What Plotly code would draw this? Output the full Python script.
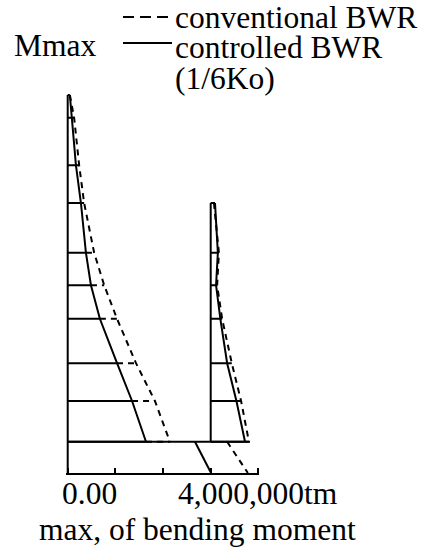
import plotly.graph_objects as go

# ---------------- data ----------------
floor_elev = [63.0, 59.2, 51.3, 45.0, 36.7, 31.3, 25.7, 18.3, 12.0, 5.2]
left_controlled = [0.06e6, 0.12e6, 0.23e6, 0.37e6, 0.51e6, 0.65e6, 0.90e6, 1.38e6, 1.80e6, 2.19e6]
left_conventional = [0.06e6, 0.18e6, 0.32e6, 0.46e6, 0.74e6, 1.02e6, 1.38e6, 1.91e6, 2.44e6, 2.86e6]

right_origin = 4.0e6
right_elev = [45.0, 36.7, 31.3, 25.7, 18.3, 12.0, 5.2]
right_controlled = [0.12e6, 0.20e6, 0.15e6, 0.27e6, 0.46e6, 0.72e6, 0.96e6]
right_conventional = [0.09e6, 0.23e6, 0.18e6, 0.32e6, 0.59e6, 0.85e6, 1.07e6]

base_elev = 5.2
ground_elev = 0.0
base_line_end = 5.10e6
found_controlled = [3.56e6, 4.01e6]
found_conventional = [4.46e6, 5.04e6]

tick_vals = [0, 1.333e6, 2.667e6, 4.0e6, 5.333e6]
tick_labels = ["0.00", "4,000,000tm"]
legend_labels = ["conventional BWR", "controlled BWR", "(1/6Ko)"]
y_title = "Mmax"
x_title = "max, of bending moment"

# ---------------- layout helpers ----------------
W, H = 428, 548
def px(x):
    return x / W
def py(y):
    return 1 - y / H

FONT = "Liberation Serif"
FS = 31.5
BLACK = "black"
LW = 2

# axis mapping (pixels)
x_range = [-0.05e6, 5.363e6]
px_per_M = 35.75
x0_px = 67.7
x_dom = [px(x0_px + x_range[0] / 1e6 * px_per_M), px(x0_px + x_range[1] / 1e6 * px_per_M)]
y_range = [0.0, 63.3]
y0_px = 473
px_per_m = 6.0
y_dom = [py(y0_px), py(y0_px - y_range[1] * px_per_m)]

fig = go.Figure()

def add_line(xs, ys, dash=None):
    fig.add_trace(go.Scatter(
        x=xs, y=ys, mode="lines",
        line=dict(color=BLACK, width=LW, dash=dash if dash else "solid"),
        hoverinfo="skip", showlegend=False, cliponaxis=False))

# left building: wall axis
add_line([0, 0], [ground_elev, floor_elev[0]])
# left controlled and conventional curves
add_line(left_controlled, floor_elev)
add_line(left_conventional, floor_elev, dash="6px,5px")
# floor lines
hx, hy, dx, dy = [], [], [], []
for e, c, v in zip(floor_elev, left_controlled, left_conventional):
    hx += [0, c, None]; hy += [e, e, None]
    if v > c:
        dx += [c, v, None]; dy += [e, e, None]
# right building
rc = [right_origin + v for v in right_controlled]
rv = [right_origin + v for v in right_conventional]
add_line([right_origin, right_origin], [base_elev, right_elev[0]])
add_line(rc, right_elev)
add_line(rv, right_elev, dash="6px,5px")
for e, c, v in zip(right_elev, rc, rv):
    hx += [right_origin, c, None]; hy += [e, e, None]
    if v > c:
        dx += [c, v, None]; dy += [e, e, None]
add_line(hx, hy)
add_line(dx, dy, dash="6px,5px")
# base slab line and foundation moments
add_line([0, base_line_end], [base_elev, base_elev])
add_line(found_controlled, [base_elev, ground_elev])
add_line(found_conventional, [base_elev, ground_elev], dash="6px,5px")

fig.update_xaxes(range=x_range, domain=x_dom, showgrid=False, zeroline=False,
                 showline=True, linecolor=BLACK, linewidth=LW,
                 tickmode="array", tickvals=tick_vals, ticks="inside",
                 ticklen=5, tickwidth=LW, tickcolor=BLACK, showticklabels=False)
fig.update_yaxes(range=y_range, domain=y_dom, visible=False)

anns = [
    dict(text=y_title, x=12, y=46),
    dict(text=legend_labels[0], x=173, y=17),
    dict(text=legend_labels[1], x=173, y=47),
    dict(text=legend_labels[2], x=173, y=78),
    dict(text=tick_labels[0], x=60, y=493),
    dict(text=tick_labels[1], x=176, y=493),
    dict(text=x_title, x=37, y=529),
]
for a in anns:
    fig.add_annotation(text=a["text"], x=px(a["x"]), y=py(a["y"]), xref="paper", yref="paper",
                       xanchor="left", yanchor="middle", showarrow=False,
                       font=dict(family=FONT, size=FS, color=BLACK))

shapes = [
    dict(type="line", xref="paper", yref="paper", x0=px(123), x1=px(172), y0=py(17), y1=py(17),
         line=dict(color=BLACK, width=2, dash="11px,6px")),
    dict(type="line", xref="paper", yref="paper", x0=px(123), x1=px(172), y0=py(43), y1=py(43),
         line=dict(color=BLACK, width=2)),
]
fig.update_layout(width=W, height=H, margin=dict(l=0, r=0, t=0, b=0),
                  paper_bgcolor="white", plot_bgcolor="white", shapes=shapes,
                  showlegend=False)

fig.write_html("out.html", config={"displayModeBar": False},
               post_script="document.body.style.margin='0';document.body.style.overflow='hidden';")
